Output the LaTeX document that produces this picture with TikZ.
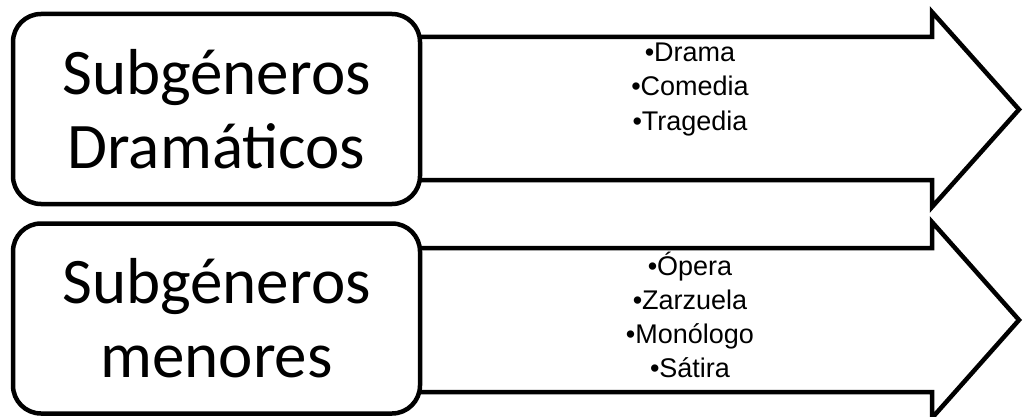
\documentclass[tikz,border=0pt]{standalone}
\usepackage{fontspec}
\setmainfont{Carlito}
\newfontfamily\arialfont{Liberation Sans}
\begin{document}
\begin{tikzpicture}[x=1pt,y=-1pt,
  genbox/.style={draw=black, line width=4.5pt, rounded corners=28pt, fill=white,
    minimum width=407pt, minimum height=190pt, inner sep=0pt, align=center,
    font=\fontsize{65}{74}\selectfont},
  bigarrow/.style={draw=black, line width=4.5pt, line join=miter, fill=white},
  listtext/.style={align=center, inner sep=0pt, anchor=base,
    font=\arialfont\fontsize{27}{34}\selectfont}]
\useasboundingbox (0,0) rectangle (1027,417);
% arrows (left ends hidden behind the boxes)
\draw[bigarrow] (300,37) -- (932,37) -- (932,12) -- (1019,109.5) -- (932,207) -- (932,180) -- (300,180) -- cycle;
\draw[bigarrow] (300,248) -- (932,248) -- (932,222) -- (1019,320) -- (932,418) -- (932,392) -- (300,392) -- cycle;
% boxes
\node[genbox] (dram) at (216.5,109) {Subgéneros\\Dramáticos};
\node[genbox] (menor) at (216.5,318.5) {Subgéneros\\menores};
% lists (anchored at the baseline of their last line)
\node[listtext] (dramlist) at (690,130) {•Drama\\•Comedia\\•Tragedia};
\node[listtext] (menorlist) at (690,377) {•Ópera\\•Zarzuela\\•Monólogo\\•Sátira};
\end{tikzpicture}
\end{document}
